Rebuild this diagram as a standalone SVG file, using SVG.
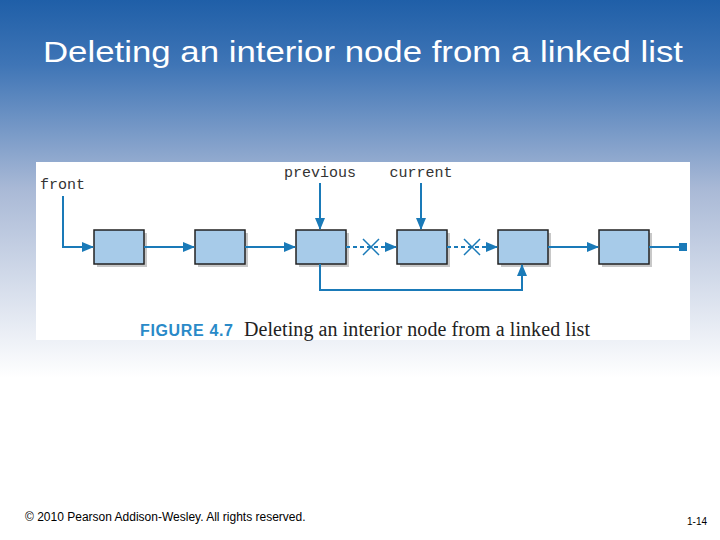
<svg xmlns="http://www.w3.org/2000/svg" width="720" height="540" viewBox="0 0 720 540">
<defs>
<linearGradient id="bg" x1="0" y1="0" x2="0" y2="1">
<stop offset="0" stop-color="#1f5fa8"/>
<stop offset="0.12" stop-color="#3f75b6"/>
<stop offset="0.35" stop-color="#a9b9d6"/>
<stop offset="0.7" stop-color="#ffffff"/>
<stop offset="1" stop-color="#ffffff"/>
</linearGradient>
<marker id="ah" markerWidth="12" markerHeight="12" refX="11" refY="6" orient="auto" markerUnits="userSpaceOnUse">
<path d="M0,1 L12,6 L0,11 Z" fill="#1a7ab8"/>
</marker>
<style>
.n{fill:#a7cbe9;stroke:#222;stroke-width:1.5}
.sh{fill:#c8c8c8}
.c{stroke:#1a7ab8;stroke-width:2;fill:none}
.d{stroke:#1a7ab8;stroke-width:2;fill:none;stroke-dasharray:4,3}
.x{stroke:#1a7ab8;stroke-width:1.5}
.lbl{font-family:"Liberation Mono",monospace;font-size:15px;fill:#333}
</style>
</defs>
<rect width="720" height="540" fill="url(#bg)"/>
<text x="43" y="62" textLength="640" lengthAdjust="spacingAndGlyphs" font-family="Liberation Sans,Arial,sans-serif" font-size="30" fill="#fff">Deleting an interior node from a linked list</text>
<rect x="36" y="162" width="654" height="178" fill="#fff"/>
<g id="labels">
<text class="lbl" x="40" y="189">front</text>
<text class="lbl" x="320" y="177" text-anchor="middle">previous</text>
<text class="lbl" x="421" y="177" text-anchor="middle">current</text>
</g>
<g id="node1"><rect class="sh" x="97" y="233" width="50" height="34"/><rect class="n" x="94" y="230" width="50" height="34"/></g>
<g id="node2"><rect class="sh" x="198" y="233" width="50" height="34"/><rect class="n" x="195" y="230" width="50" height="34"/></g>
<g id="node3"><rect class="sh" x="299" y="233" width="50" height="34"/><rect class="n" x="296" y="230" width="50" height="34"/></g>
<g id="node4"><rect class="sh" x="400" y="233" width="50" height="34"/><rect class="n" x="397" y="230" width="50" height="34"/></g>
<g id="node5"><rect class="sh" x="501" y="233" width="50" height="34"/><rect class="n" x="498" y="230" width="50" height="34"/></g>
<g id="node6"><rect class="sh" x="602" y="233" width="50" height="34"/><rect class="n" x="599" y="230" width="50" height="34"/></g>
<g id="connectors">
<path class="c" d="M63,196 V247 H93" marker-end="url(#ah)"/>
<path class="c" d="M144,247 H194" marker-end="url(#ah)"/>
<path class="c" d="M245,247 H295" marker-end="url(#ah)"/>
<path class="c" d="M320,183 V229" marker-end="url(#ah)"/>
<path class="c" d="M421,183 V229" marker-end="url(#ah)"/>
<path class="d" d="M346,247 H396" marker-end="url(#ah)"/>
<path class="d" d="M447,247 H497" marker-end="url(#ah)"/>
<path class="x" d="M363,239 L379,255 M379,239 L363,255"/>
<path class="x" d="M464,239 L480,255 M480,239 L464,255"/>
<path class="c" d="M320,264 V290 H522 V265" marker-end="url(#ah)"/>
<path class="c" d="M548,247 H598" marker-end="url(#ah)"/>
<path class="c" d="M649,247 H680"/>
<rect x="679" y="243" width="8" height="8" fill="#1a7ab8"/>
</g>
<text x="140" y="336" textLength="93" font-family="Liberation Sans,Arial,sans-serif" font-weight="bold" font-size="16" fill="#2a8ac8">FIGURE 4.7</text>
<text x="244" y="336" textLength="346" font-family="Liberation Serif,serif" font-size="20" fill="#222">Deleting an interior node from a linked list</text>
<text x="25" y="521" font-family="Liberation Sans,Arial,sans-serif" font-size="12" fill="#000">© 2010 Pearson Addison-Wesley. All rights reserved.</text>
<text x="707" y="525" text-anchor="end" font-family="Liberation Sans,Arial,sans-serif" font-size="10" fill="#000">1-14</text>
</svg>
